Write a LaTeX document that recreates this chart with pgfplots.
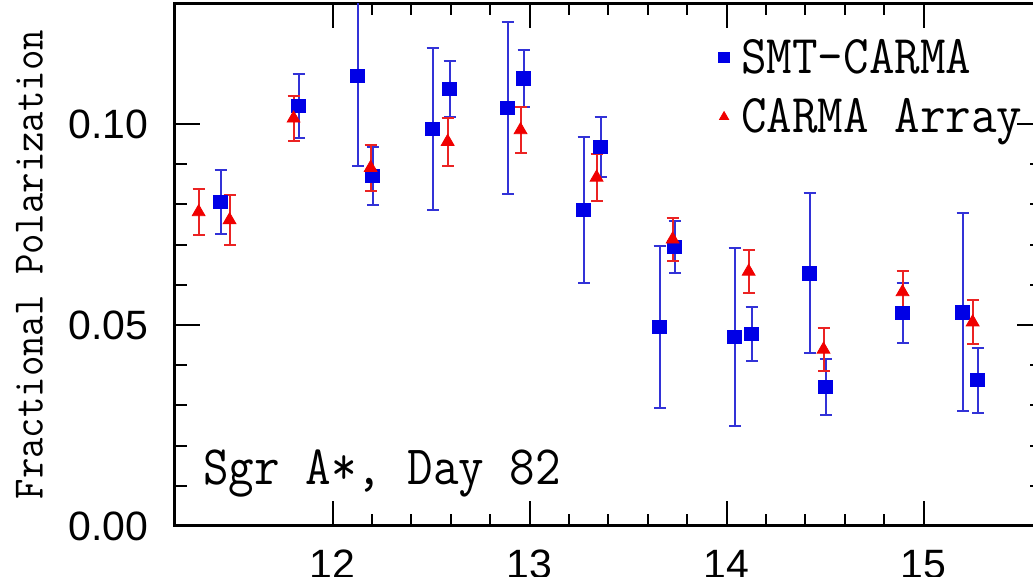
\documentclass[border=0pt]{standalone}
\usepackage{fontspec}
\setmainfont{Liberation Sans}
\usepackage{graphicx}
\usepackage{pgfplots}
\usepackage{pgfplotstable}
\pgfplotsset{compat=1.18}
\usetikzlibrary{calc}
\definecolor{mblue}{RGB}{0,0,230}
\definecolor{bblue}{RGB}{50,50,215}
\definecolor{mred}{RGB}{240,0,0}
\definecolor{bred}{RGB}{235,35,35}

\pgfplotstableread{
x y e
11.431 0.0806 0.0079
11.827 0.1045 0.0080
12.127 0.1120 0.0224
12.203 0.0871 0.0072
12.508 0.0988 0.0202
12.594 0.1087 0.0070
12.888 0.1040 0.0213
12.970 0.1114 0.0071
13.274 0.0786 0.0181
13.360 0.0943 0.0074
13.660 0.0495 0.0201
13.736 0.0694 0.0065
14.041 0.0470 0.0222
14.127 0.0478 0.0068
14.421 0.0629 0.0199
14.503 0.0346 0.0070
14.893 0.0530 0.0075
15.198 0.0532 0.0246
15.274 0.0363 0.0081
}\smt

\pgfplotstableread{
x y e
11.320 0.0781 0.0058
11.477 0.0761 0.0063
11.802 0.1014 0.0056
12.193 0.0891 0.0057
12.584 0.0956 0.0060
12.954 0.0985 0.0057
13.340 0.0867 0.0058
13.726 0.0713 0.0053
14.112 0.0633 0.0053
14.492 0.0439 0.0053
14.893 0.0582 0.0052
15.249 0.0507 0.0055
}\carma

\begin{document}
\begin{tikzpicture}
\begin{axis}[
  scale only axis, width=433.4pt, height=261.3pt,
  xmin=11.2, xmax=15.6, ymin=0, ymax=0.13,
  xtick={12,13,14,15}, ytick={0,0.05,0.10},
  minor x tick num=4, minor y tick num=4,
  tick align=inside,
  major tick length=12.5pt, minor tick length=6pt,
  axis line style={line width=1.5pt},
  every tick/.style={black, line width=1pt},
  /pgf/number format/assume math mode=true,
  tick label style={font=\fontsize{20.5}{21}\selectfont},
  yticklabel style={/pgf/number format/fixed, /pgf/number format/precision=2,
     /pgf/number format/fixed zerofill, anchor=east, inner sep=0pt, xshift=-13pt},
  xticklabel style={anchor=north, inner sep=0pt, yshift=-11.8pt},
  ylabel={\scalebox{1}[1.1]{Fractional Polarization}},
  ylabel style={font=\ttfamily\fontsize{19.8}{20}\selectfont, at={(rel axis cs:-0.168,0.5)}, anchor=center},
  legend style={draw=none, fill=none, at={(rel axis cs:0.627,0.94)}, anchor=north west,
     font=\ttfamily\fontsize{24.8}{25}\selectfont, row sep=7pt, column sep=4pt, inner sep=0pt},
  legend cell align=left,
  legend image code/.code={\draw[#1, mark size=2.6pt] plot coordinates {(0pt,0pt)};},
]
\coordinate (O) at (rel axis cs:0,0);
\addplot[only marks, mark=square*, color=mblue, mark size=3.4pt,
  error bars/.cd, y dir=both, y explicit,
  error bar style={bblue, line width=1pt},
  error mark options={bblue, line width=1pt, mark size=3pt, rotate=90}]
  table[x=x, y=y, y error=e] {\smt};
\addlegendentry{\scalebox{1}[1.1]{SMT–CARMA}}
\addplot[only marks, mark=triangle*, color=mred, mark size=3.7pt,
  error bars/.cd, y dir=both, y explicit,
  error bar style={bred, line width=1pt},
  error mark options={bred, line width=1pt, mark size=3pt, rotate=90}]
  table[x=x, y=y, y error=e] {\carma};
\addlegendentry{\scalebox{1}[1.1]{CARMA Array}}
\node[anchor=base west, inner sep=0pt, font=\ttfamily\fontsize{24.8}{25}\selectfont]
  at (axis cs:11.342,0.0102) {\scalebox{1}[1.12]{Sgr A*, Day 82}};
\end{axis}
\pgfresetboundingbox
\path ($(O)+(-87.5pt,-25.5pt)$) rectangle ($(O)+(429pt,263pt)$);
\end{tikzpicture}
\end{document}
